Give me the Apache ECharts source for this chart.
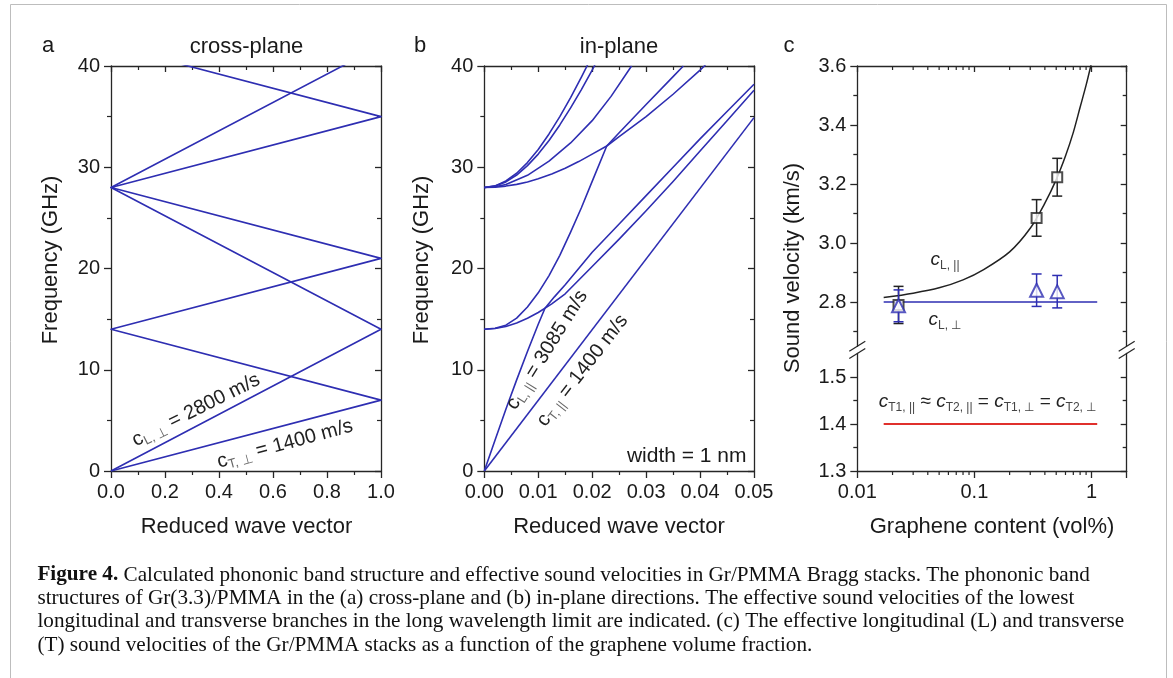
<!DOCTYPE html>
<html><head><meta charset="utf-8">
<script src="https://cdn.jsdelivr.net/npm/echarts@6/dist/echarts.min.js"></script>
<style>html,body{margin:0;padding:0;background:#fff;}#main{width:1173px;height:678px;}</style>
</head><body><div id="main"></div>
<script>
// ---------------- Panel a: cross-plane band structure ----------------
const crossL_q = [0, 1, 0, 1];
const crossL_f = [0, 14, 28, 42];
const crossT_q = [0, 1, 0, 1, 0, 1, 0];
const crossT_f = [0, 7, 14, 21, 28, 35, 42];

// ---------------- Panel b: in-plane band structure ----------------
const inT0_q = [0, 0.05];
const inT0_f = [0, 34.9];
const inL0_q = [0, 0.002, 0.004, 0.006, 0.008, 0.010, 0.01125, 0.013, 0.015, 0.020, 0.025, 0.030, 0.035, 0.040, 0.045, 0.050];
const inL0_f = [0, 3.07, 6.1, 9.0, 11.8, 14.5, 16.07, 17.2, 18.4, 21.6, 24.4, 27.2, 30.0, 32.8, 35.5, 38.2];
const in14T_q = [0, 0.002, 0.004, 0.006, 0.008, 0.010, 0.0125, 0.015, 0.020, 0.025, 0.030, 0.035, 0.040, 0.045, 0.050];
const in14T_f = [14, 14.07, 14.28, 14.62, 15.08, 15.65, 16.51, 17.5, 20.2, 22.9, 25.7, 28.6, 31.6, 34.6, 37.6];
const in14U_q = [0, 0.002, 0.004, 0.006, 0.008, 0.010, 0.012, 0.014, 0.016, 0.018, 0.020, 0.0227, 0.025, 0.030, 0.035, 0.0369];
const in14U_f = [14, 14.1, 14.4, 15.1, 16.2, 17.6, 19.3, 21.3, 23.6, 26.0, 28.6, 32.1, 33.4, 36.2, 38.95, 40];
const in28A_q = [0, 0.002, 0.004, 0.006, 0.008, 0.010, 0.0125, 0.015, 0.0175, 0.020, 0.0227, 0.025, 0.030, 0.035, 0.040, 0.041];
const in28A_f = [28, 28.03, 28.14, 28.31, 28.55, 28.86, 29.34, 29.9, 30.56, 31.3, 32.1, 33.02, 35.0, 37.21, 39.6, 40.1];
const in28B_q = [0, 0.002, 0.004, 0.008, 0.012, 0.016, 0.020, 0.0235, 0.0273];
const in28B_f = [28, 28.08, 28.3, 29.2, 30.6, 32.4, 34.6, 37.0, 40.0];
const in28C_q = [0, 0.002, 0.004, 0.006, 0.008, 0.010, 0.012, 0.014, 0.016, 0.018, 0.0192];
const in28C_f = [28, 28.16, 28.64, 29.41, 30.46, 31.76, 33.29, 35.0, 36.88, 38.9, 40.17];
const in28D_q = [0, 0.002, 0.004, 0.006, 0.008, 0.010, 0.012, 0.014, 0.016, 0.018, 0.020, 0.0205];
const in28D_f = [28, 28.14, 28.55, 29.23, 30.16, 31.3, 32.65, 34.18, 35.86, 37.67, 39.6, 40.1];

// ---------------- Panel c: sound velocities ----------------
const phi_meas = [0.0225, 0.34, 0.51];
const cLpar_meas = [2.79, 3.085, 3.223];
const cLpar_err = [0.063, 0.062, 0.064];
const cLperp_meas = [2.787, 2.84, 2.835];
const cLperp_err = [0.054, 0.055, 0.055];
const fit_phi = [0.0168, 0.03, 0.05, 0.08, 0.12, 0.2, 0.3, 0.4, 0.5, 0.6, 0.7, 0.8, 0.9, 1.0];
const fit_cLpar = [2.815, 2.83, 2.848, 2.875, 2.91, 2.97, 3.05, 3.135, 3.215, 3.295, 3.375, 3.46, 3.535, 3.61];
const flat_phi = [0.0168, 1.12];
const cLperp_line = [2.8, 2.8];
const cT_line = [1.4, 1.4];

// tick values
const upMajor = [2.8, 3.0, 3.2, 3.4, 3.6];
const upMinor = [2.7, 2.9, 3.1, 3.3, 3.5];
const loMajor = [1.3, 1.4, 1.5];
const loMinor = [1.35, 1.45];
const logMinor = [0.02,0.03,0.04,0.05,0.06,0.07,0.08,0.09,0.2,0.3,0.4,0.5,0.6,0.7,0.8,0.9];
const UP_MIN = 2.65, UP_MAX = 3.6, LO_MIN = 1.3, LO_MAX = 1.55;

const AX = '#262626';
const FONT = '"Liberation Sans", Arial, sans-serif';
const BLUE = '#2e2eb2';

function pairs(a, b) { return a.map((v, i) => [v, b[i]]); }

function valAxis(gi, pos, min, max, interval, showLabel, inside, fmt, extra) {
  const o = {
    type: 'value', gridIndex: gi, position: pos, min, max, interval,
    axisLine: {show: true, onZero: false, lineStyle: {color: AX, width: 1.3}},
    axisTick: {show: true, inside: inside, length: inside ? 6 : 7, lineStyle: {color: AX, width: 1.3}},
    minorTick: {show: true, splitNumber: 2, length: 4, lineStyle: {color: AX, width: 1.2}},
    axisLabel: {show: showLabel, color: '#1a1a1a', fontSize: 20, fontFamily: FONT, margin: 11, formatter: fmt},
    splitLine: {show: false}, minorSplitLine: {show: false}
  };
  return Object.assign(o, extra || {});
}
function customYAxis(gi, pos, min, max, ticks, showLabel, showLine, inside, len) {
  return {
    type: 'value', gridIndex: gi, position: pos, min, max,
    axisLine: {show: showLine, onZero: false, lineStyle: {color: AX, width: 1.3}},
    axisTick: {show: true, inside: inside, length: len, customValues: ticks, lineStyle: {color: AX, width: 1.3}},
    axisLabel: {show: showLabel, customValues: ticks, color: '#1a1a1a', fontSize: 20, fontFamily: FONT, margin: 11,
      formatter: v => v.toFixed(1)},
    splitLine: {show: false}
  };
}
function logFmt(v) {
  const l = Math.log10(v);
  if (Math.abs(l - Math.round(l)) > 1e-6) return '';
  return String(Number(v.toPrecision(6)));
}
function logAxis(gi, pos, showLabel, inside) {
  return {
    type: 'log', logBase: 10, gridIndex: gi, position: pos, min: 0.01, max: 2,
    axisLine: {show: true, onZero: false, lineStyle: {color: AX, width: 1.3}},
    axisTick: {show: true, inside: inside, length: inside ? 6 : 7, lineStyle: {color: AX, width: 1.3}},
    minorTick: {show: false},
    axisLabel: {show: showLabel, color: '#1a1a1a', fontSize: 20, fontFamily: FONT, margin: 11, formatter: logFmt},
    splitLine: {show: false}
  };
}

const grids = [
  {left: 111, top: 66, width: 270, height: 405},
  {left: 484.3, top: 66, width: 269.7, height: 405},
  {left: 857.3, top: 66, width: 269.4, height: 280.25},
  {left: 857.3, top: 353.5, width: 269.4, height: 117.5}
];

const xAxes = [
  valAxis(0, 'bottom', 0, 1, 0.2, true, false, v => v.toFixed(1)),
  valAxis(0, 'top', 0, 1, 0.2, false, true),
  valAxis(1, 'bottom', 0, 0.05, 0.01, true, false, v => v.toFixed(2)),
  valAxis(1, 'top', 0, 0.05, 0.01, false, true),
  logAxis(2, 'top', false, true),
  logAxis(3, 'bottom', true, false)
];
const yAxes = [
  valAxis(0, 'left', 0, 40, 10, true, false, v => String(v)),
  valAxis(0, 'right', 0, 40, 10, false, true),
  valAxis(1, 'left', 0, 40, 10, true, false, v => String(v)),
  valAxis(1, 'right', 0, 40, 10, false, true),
  customYAxis(2, 'left', UP_MIN, UP_MAX, upMajor, true, true, false, 7),
  customYAxis(2, 'left', UP_MIN, UP_MAX, upMinor, false, false, false, 4),
  customYAxis(2, 'right', UP_MIN, UP_MAX, upMajor, false, true, true, 6),
  customYAxis(2, 'right', UP_MIN, UP_MAX, upMinor, false, false, true, 4),
  customYAxis(3, 'left', LO_MIN, LO_MAX, loMajor, true, true, false, 7),
  customYAxis(3, 'left', LO_MIN, LO_MAX, loMinor, false, false, false, 4),
  customYAxis(3, 'right', LO_MIN, LO_MAX, loMajor, false, true, true, 6),
  customYAxis(3, 'right', LO_MIN, LO_MAX, loMinor, false, false, true, 4)
];

function band(xi, yi, q, f) {
  return {type: 'line', xAxisIndex: xi, yAxisIndex: yi, data: pairs(q, f), showSymbol: false, symbol: 'none',
    smooth: false, clip: true, silent: true,
    lineStyle: {color: BLUE, width: 1.6, join: 'round'}};
}
function errSeries(xs, ys, es, color, xi, yi) {
  return {type: 'custom', xAxisIndex: xi, yAxisIndex: yi, z: 4, silent: true,
    data: xs.map((x, i) => [x, ys[i] - es[i], ys[i] + es[i]]),
    renderItem: (p, api) => {
      const lo = api.coord([api.value(0), api.value(1)]);
      const hi = api.coord([api.value(0), api.value(2)]);
      const w = 5, st = {stroke: color, lineWidth: 1.5};
      return {type: 'group', children: [
        {type: 'line', shape: {x1: lo[0], y1: lo[1], x2: hi[0], y2: hi[1]}, style: st},
        {type: 'line', shape: {x1: lo[0] - w, y1: lo[1], x2: lo[0] + w, y2: lo[1]}, style: st},
        {type: 'line', shape: {x1: hi[0] - w, y1: hi[1], x2: hi[0] + w, y2: hi[1]}, style: st}
      ]};
    }};
}
function logMinorTicks(xi, yi, yval, dir) {
  return {type: 'custom', xAxisIndex: xi, yAxisIndex: yi, clip: false, silent: true, z: 3,
    data: logMinor.map(v => [v]),
    renderItem: (p, api) => {
      const c = api.coord([api.value(0), yval]);
      return {type: 'line', shape: {x1: c[0], y1: c[1], x2: c[0], y2: c[1] + dir * 4},
        style: {stroke: AX, lineWidth: 1.2}};
    }};
}

const series = [
  band(0, 0, crossL_q, crossL_f),
  band(0, 0, crossT_q, crossT_f),
  band(2, 2, inT0_q, inT0_f),
  band(2, 2, inL0_q, inL0_f),
  band(2, 2, in14T_q, in14T_f),
  band(2, 2, in14U_q, in14U_f),
  band(2, 2, in28A_q, in28A_f),
  band(2, 2, in28B_q, in28B_f),
  band(2, 2, in28C_q, in28C_f),
  band(2, 2, in28D_q, in28D_f),
  {type: 'line', xAxisIndex: 4, yAxisIndex: 4, data: pairs(flat_phi, cLperp_line), showSymbol: false, symbol: 'none',
    silent: true, lineStyle: {color: BLUE, width: 1.6}, z: 2},
  {type: 'line', xAxisIndex: 4, yAxisIndex: 4, data: pairs(fit_phi, fit_cLpar), showSymbol: false, symbol: 'none',
    smooth: 0.3, silent: true, clip: true, lineStyle: {color: '#222', width: 1.5}, z: 2},
  {type: 'line', xAxisIndex: 5, yAxisIndex: 8, data: pairs(flat_phi, cT_line), showSymbol: false, symbol: 'none',
    silent: true, lineStyle: {color: '#e0302c', width: 2}},
  errSeries(phi_meas, cLpar_meas, cLpar_err, '#222', 4, 4),
  errSeries(phi_meas, cLperp_meas, cLperp_err, BLUE, 4, 4),
  {type: 'scatter', xAxisIndex: 4, yAxisIndex: 4, data: pairs(phi_meas, cLpar_meas), symbol: 'emptyRect',
    symbolSize: 10, silent: true, z: 6, itemStyle: {color: '#222', borderColor: '#222', borderWidth: 1.5}},
  {type: 'scatter', xAxisIndex: 4, yAxisIndex: 4, data: pairs(phi_meas, cLperp_meas), symbol: 'emptyTriangle',
    symbolSize: [13, 13], silent: true, z: 6, itemStyle: {color: BLUE, borderColor: BLUE, borderWidth: 1.5}},
  logMinorTicks(5, 8, LO_MIN, 1),
  logMinorTicks(4, 4, UP_MAX, 1)
];

// --------- texts ---------
function T(x, y, text, size, opt) {
  opt = opt || {};
  return {type: 'text', x, y, rotation: opt.rot || 0, silent: true, z: 100,
    style: {text, fill: opt.color || '#1a1a1a', fontSize: size, fontFamily: opt.family || FONT,
      fontStyle: opt.italic ? 'italic' : 'normal', fontWeight: opt.bold ? 'bold' : 'normal',
      align: opt.align || 'center', verticalAlign: 'middle', rich: opt.rich}};
}
const richAB = {
  c: {fontSize: 20, fontFamily: FONT, fill: '#222', lineHeight: 24},
  s: {fontSize: 13, fontFamily: FONT, fill: '#666', lineHeight: 13, verticalAlign: 'bottom'},
  t: {fontSize: 20, fontFamily: FONT, fill: '#222', lineHeight: 24}
};
const richC = {
  c: {fontSize: 19, fontFamily: FONT, fontStyle: 'italic', fill: '#222', lineHeight: 24},
  s: {fontSize: 12, fontFamily: FONT, fill: '#444', lineHeight: 12, verticalAlign: 'bottom'},
  t: {fontSize: 19, fontFamily: FONT, fill: '#222', lineHeight: 24}
};
const deg = Math.PI / 180;
const SERIF = '"Liberation Serif", "Times New Roman", serif';
const CAP_SIZE = 21.2;
const captionLines = [
  '{b|Figure 4.} Calculated phononic band structure and effective sound velocities in Gr/PMMA Bragg stacks. The phononic band',
  'structures of Gr(3.3)/PMMA in the (a) cross-plane and (b) in-plane directions. The effective sound velocities of the lowest',
  'longitudinal and transverse branches in the long wavelength limit are indicated. (c) The effective longitudinal (L) and transverse',
  '(T) sound velocities of the Gr/PMMA stacks as a function of the graphene volume fraction.'
];
const capRich = {b: {fontFamily: SERIF, fontWeight: 'bold', fontSize: CAP_SIZE, fill: '#111'}};

const graphic = [
  {type: 'rect', silent: true, z: -10, shape: {x: 10.5, y: 4.5, width: 1156, height: 700},
    style: {fill: 'none', stroke: '#bdbdbd', lineWidth: 1}},
  T(48, 45.5, 'a', 22), T(246.5, 47, 'cross-plane', 22),
  T(420, 45.5, 'b', 22), T(619, 47, 'in-plane', 22),
  T(789, 45.5, 'c', 22),
  T(51, 260, 'Frequency (GHz)', 22, {rot: 90 * deg}),
  T(422, 260, 'Frequency (GHz)', 22, {rot: 90 * deg}),
  T(793, 268, 'Sound velocity (km/s)', 22, {rot: 90 * deg}),
  T(246.5, 527, 'Reduced wave vector', 22),
  T(619, 527, 'Reduced wave vector', 22),
  T(992, 527, 'Graphene content (vol%)', 22),
  T(196, 410, '{c|c}{s|L, ⊥}{t| = 2800 m/s}', 20, {rot: 26.6 * deg, rich: richAB}),
  T(285, 444, '{c|c}{s|T, ⊥}{t| = 1400 m/s}', 20, {rot: 15.2 * deg, rich: richAB}),
  T(547, 350, '{c|c}{s|L, ||}{t| = 3085 m/s}', 20, {rot: 58 * deg, rich: richAB}),
  T(582.5, 370.5, '{c|c}{s|T, ||}{t| = 1400 m/s}', 20, {rot: 52.2 * deg, rich: richAB}),
  T(686.7, 456, 'width = 1 nm', 21),
  T(945, 260, '{c|c}{s|L, ||}', 19, {rich: richC}),
  T(945, 320, '{c|c}{s|L, ⊥}', 19, {rich: richC}),
  T(987.5, 401.5, '{c|c}{s|T1, ||}{t| ≈ }{c|c}{s|T2, ||}{t| = }{c|c}{s|T1, ⊥}{t| = }{c|c}{s|T2, ⊥}', 19, {rich: richC})
];
captionLines.forEach((s, i) => {
  graphic.push({type: 'text', x: 37.4, y: 575 + i * 23.4, silent: true,
    style: {text: s, fontFamily: SERIF, fontSize: CAP_SIZE, fill: '#111', align: 'left', verticalAlign: 'middle', rich: capRich}});
});
// axis-break marks
[857.3, 1126.7].forEach(x => {
  [346.25, 353.5].forEach(y => {
    graphic.push({type: 'line', silent: true, z: 50, shape: {x1: x - 8, y1: y + 5, x2: x + 8, y2: y - 5},
      style: {stroke: AX, lineWidth: 1.3}});
  });
});

const chart = echarts.init(document.getElementById('main'), null, {renderer: 'canvas', width: 1173, height: 678});
chart.setOption({
  animation: false,
  backgroundColor: '#ffffff',
  grid: grids,
  xAxis: xAxes,
  yAxis: yAxes,
  series: series,
  graphic: graphic
});
</script>
</body></html>
